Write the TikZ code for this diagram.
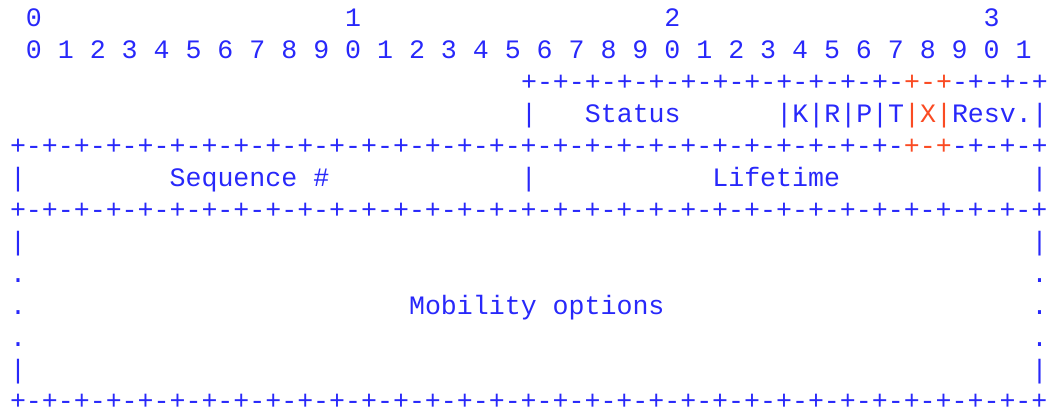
\documentclass[tikz,border=0pt]{standalone}
\usepackage{fontspec}
\newfontfamily\asciifont{Liberation Mono}
\definecolor{rfcblue}{RGB}{40, 40, 250}
\definecolor{rfcred}{RGB}{250, 75, 35}
\usetikzlibrary{positioning}
% one blank column of the monospaced grid, repeated #1 times
\newcommand{\cols}[1]{\hspace*{#1\fontcharwd\font`0}}
\newcommand{\flag}[1]{\textcolor{rfcred}{#1}}
% eight bits of border
\newcommand{\octet}{+-+-+-+-+-+-+-+-}
\tikzset{
	ascii/.style={anchor=base west, inner sep=0pt, outer sep=0pt, text=rfcblue, font=\asciifont\fontsize{26.6}{32}\selectfont},
}
\begin{document}
\begin{tikzpicture}[x=1pt, y=-1pt]
		\useasboundingbox (0,0) rectangle (1051,408);
		% column c starts at 10 + 15.97c, rows are 32.08 apart
		\node[ascii] (octets) at (25.97,26) {0\cols{19}1\cols{19}2\cols{19}3};
		\node[ascii] (bits) at (25.97,58.08) {0 1 2 3 4 5 6 7 8 9 0 1 2 3 4 5 6 7 8 9 0 1 2 3 4 5 6 7 8 9 0 1};
		\node[ascii] (topedge) at (521.04,90.16) {\octet+-+-+-+-\flag{+-+}-+-+-+};
		\node[ascii] (status) at (521.04,122.24) {|\cols{3}Status\cols{6}|K|R|P|T\flag{|X|}Resv.|};
		\node[ascii] (edge1) at (10,154.32) {\octet\octet\octet+-+-+-+-\flag{+-+}-+-+-+};
		\node[ascii] (seqlife) at (10,186.4) {|\cols{9}Sequence \#\cols{12}|\cols{11}Lifetime\cols{12}|};
		\node[ascii] (edge2) at (10,218.48) {\octet\octet\octet\octet+};
		\node[ascii] (opt1) at (10,250.56) {|\cols{63}|};
		\node[ascii] (opt2) at (10,282.64) {.\cols{63}.};
		\node[ascii] (options) at (10,314.72) {.\cols{24}Mobility options\cols{23}.};
		\node[ascii] (opt4) at (10,346.8) {.\cols{63}.};
		\node[ascii] (opt5) at (10,378.88) {|\cols{63}|};
		\node[ascii] (edge3) at (10,409.5) {\octet\octet\octet\octet+};
	\end{tikzpicture}
\end{document}
